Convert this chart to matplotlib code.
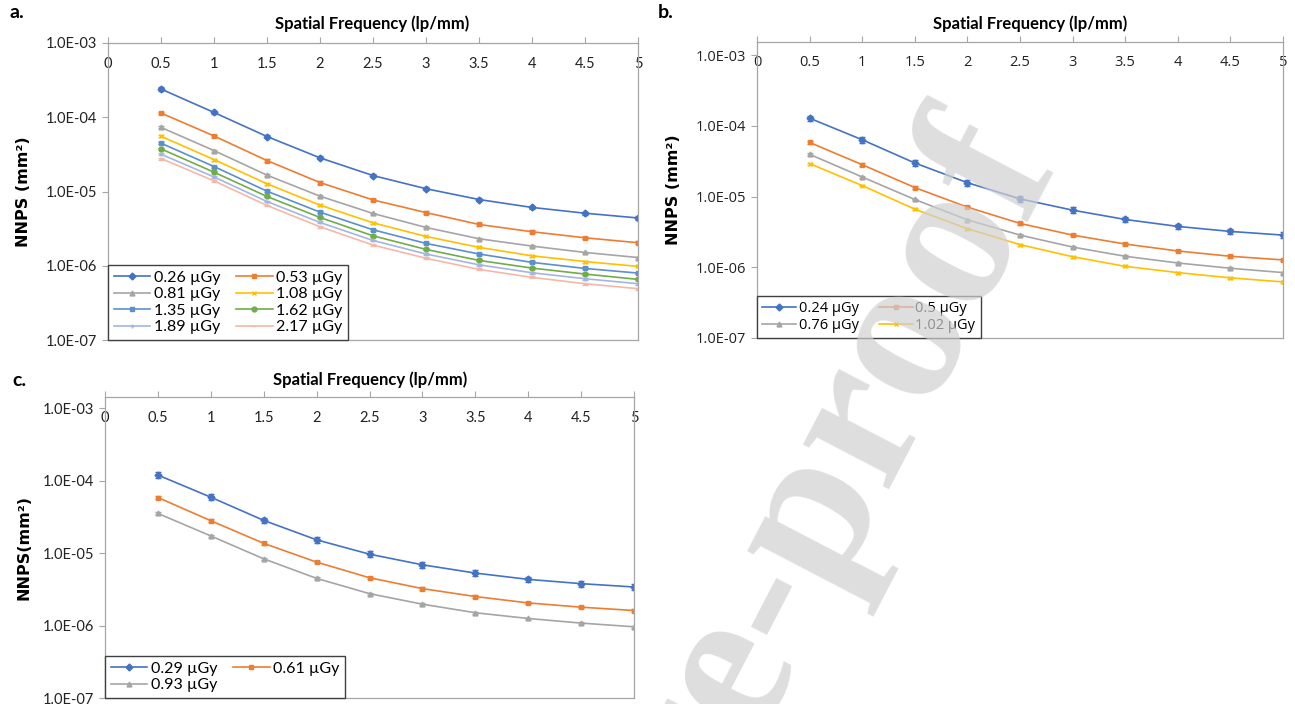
import matplotlib
matplotlib.use("Agg")
import matplotlib.pyplot as plt
from matplotlib.lines import Line2D
import numpy as np

# ---------------- data ----------------
freq = [0.5, 1, 1.5, 2, 2.5, 3, 3.5, 4, 4.5, 5]
xtick_vals = [0, 0.5, 1, 1.5, 2, 2.5, 3, 3.5, 4, 4.5, 5]
xtick_labels = ["0", "0.5", "1", "1.5", "2", "2.5", "3", "3.5", "4", "4.5", "5"]
ytick_vals = [1e-7, 1e-6, 1e-5, 1e-4, 1e-3]
ytick_labels = ["1.0E-07", "1.0E-06", "1.0E-05", "1.0E-04", "1.0E-03"]

# panel a
a_labels = ["0.26 µGy", "0.53 µGy", "0.81 µGy", "1.08 µGy",
            "1.35 µGy", "1.62 µGy", "1.89 µGy", "2.17 µGy"]
a_026 = [2.40e-4, 1.16e-4, 5.50e-5, 2.84e-5, 1.64e-5, 1.09e-5, 7.8e-6, 6.1e-6, 5.1e-6, 4.4e-6]
a_053 = [1.14e-4, 5.6e-5, 2.61e-5, 1.32e-5, 7.7e-6, 5.2e-6, 3.6e-6, 2.87e-6, 2.38e-6, 2.04e-6]
a_081 = [7.3e-5, 3.56e-5, 1.66e-5, 8.65e-6, 5.06e-6, 3.28e-6, 2.31e-6, 1.84e-6, 1.51e-6, 1.29e-6]
a_108 = [5.55e-5, 2.69e-5, 1.27e-5, 6.55e-6, 3.79e-6, 2.48e-6, 1.77e-6, 1.36e-6, 1.14e-6, 9.8e-7]
a_135 = [4.47e-5, 2.17e-5, 1.01e-5, 5.27e-6, 3.05e-6, 2.0e-6, 1.44e-6, 1.11e-6, 9.2e-7, 7.96e-7]
a_162 = [3.75e-5, 1.82e-5, 8.57e-6, 4.47e-6, 2.53e-6, 1.66e-6, 1.18e-6, 9.3e-7, 7.73e-7, 6.55e-7]
a_189 = [3.18e-5, 1.57e-5, 7.33e-6, 3.83e-6, 2.19e-6, 1.44e-6, 1.03e-6, 8.05e-7, 6.69e-7, 5.73e-7]
a_217 = [2.78e-5, 1.39e-5, 6.48e-6, 3.35e-6, 1.90e-6, 1.26e-6, 8.93e-7, 6.97e-7, 5.73e-7, 4.91e-7]
a_relerr = [0.05, 0.04, 0.03, 0.03, 0.03, 0.03, 0.03, 0.03]

# panel b
b_labels = ["0.24 µGy", "0.5 µGy", "0.76 µGy", "1.02 µGy"]
b_024 = [1.28e-4, 6.35e-5, 2.98e-5, 1.57e-5, 9.27e-6, 6.42e-6, 4.74e-6, 3.78e-6, 3.21e-6, 2.85e-6]
b_050 = [5.82e-5, 2.82e-5, 1.34e-5, 7.08e-6, 4.17e-6, 2.85e-6, 2.13e-6, 1.70e-6, 1.43e-6, 1.27e-6]
b_076 = [3.95e-5, 1.89e-5, 9.08e-6, 4.69e-6, 2.85e-6, 1.93e-6, 1.43e-6, 1.15e-6, 9.68e-7, 8.41e-7]
b_102 = [2.92e-5, 1.43e-5, 6.63e-6, 3.51e-6, 2.09e-6, 1.41e-6, 1.03e-6, 8.41e-7, 7.08e-7, 6.21e-7]
b_relerr = [0.09, 0.04, 0.03, 0.03]

# panel c
c_labels = ["0.29 µGy", "0.61 µGy", "0.93 µGy"]
c_029 = [1.19e-4, 5.89e-5, 2.82e-5, 1.52e-5, 9.64e-6, 6.88e-6, 5.29e-6, 4.33e-6, 3.78e-6, 3.40e-6]
c_061 = [5.83e-5, 2.79e-5, 1.36e-5, 7.49e-6, 4.56e-6, 3.23e-6, 2.51e-6, 2.05e-6, 1.79e-6, 1.61e-6]
c_093 = [3.52e-5, 1.72e-5, 8.32e-6, 4.47e-6, 2.75e-6, 1.97e-6, 1.50e-6, 1.25e-6, 1.08e-6, 9.6e-7]
c_relerr = [0.09, 0.04, 0.03]

# ---------------- styles ----------------
a_colors = ["#4472C4", "#ED7D31", "#A5A5A5", "#FFC000", "#5B8FD0", "#70AD47", "#A3B6E2", "#F4B8A8"]
a_markers = ["D", "s", "^", "x", "s", "o", "+", "_"]
b_colors = ["#4472C4", "#ED7D31", "#A5A5A5", "#FFC000"]
b_markers = ["D", "s", "^", "x"]
c_colors = ["#4472C4", "#ED7D31", "#A5A5A5"]
c_markers = ["D", "s", "^"]

SPINE = "#A6A6A6"
W, H = 1295, 704
fig = plt.figure(figsize=(W / 100, H / 100), dpi=100)


def ax_at(l, t, r, b):
    return fig.add_axes([l / W, 1 - b / H, (r - l) / W, (b - t) / H])


def style_axes(ax, ytop, font):
    ax.set_yscale("log")
    ax.set_xlim(0, 5)
    ax.set_ylim(1e-7, ytop)
    ax.set_xticks(xtick_vals)
    ax.set_xticklabels(xtick_labels, fontfamily=font, fontsize=10.5)
    ax.set_yticks(ytick_vals)
    ax.set_yticklabels(ytick_labels, fontfamily=font, fontsize=10.5)
    ax.yaxis.set_minor_locator(matplotlib.ticker.NullLocator())
    ax.tick_params(axis="x", top=True, bottom=False, labeltop=True, labelbottom=False,
                   direction="out", length=4, width=0.8, color=SPINE, pad=-24, labelcolor="#222222")
    ax.tick_params(axis="y", direction="out", length=4, width=0.8, color=SPINE, pad=4,
                   labelcolor="#222222")
    for s in ax.spines.values():
        s.set_color(SPINE)
        s.set_linewidth(0.9)


def plot_series(ax, ys, labels, colors, markers, relerr):
    handles = []
    for y, lab, col, mk, re in zip(ys, labels, colors, markers, relerr):
        y = np.array(y)
        ax.errorbar(freq, y, yerr=y * re, color=col, marker=mk, markersize=3.5,
                    markeredgewidth=1.0, linewidth=1.2, elinewidth=1.0, capsize=2.2,
                    capthick=1.0)
        handles.append(Line2D([], [], color=col, marker=mk, markersize=3.5,
                              markeredgewidth=1.0, linewidth=1.2, label=lab))
    return handles


def add_legend(ax, handles, font, fs, colspace):
    ordered = handles[0::2] + handles[1::2]   # row-wise reading order
    leg = ax.legend(handles=ordered, loc="lower left", bbox_to_anchor=(0, 0), ncol=2,
                    frameon=True, fancybox=False, framealpha=1, edgecolor="#404040",
                    prop={"family": font, "size": fs}, handlelength=2.3, handletextpad=0.2,
                    labelspacing=0.15, columnspacing=colspace, borderpad=0.35,
                    borderaxespad=0)
    leg.get_frame().set_linewidth(1.0)
    return leg


# ---------------- panel a ----------------
axa = ax_at(108, 43, 638, 340)
style_axes(axa, 1e-3, "Lato")
ha_ = plot_series(axa, [a_026, a_053, a_081, a_108, a_135, a_162, a_189, a_217],
                  a_labels, a_colors, a_markers, a_relerr)
add_legend(axa, ha_, "Lato", 11.5, 1.0)
axa.set_ylabel("NNPS (mm²)", fontfamily="DejaVu Sans", fontweight="bold", fontsize=11.5, labelpad=10)
fig.text(372 / W, 1 - 24 / H, "Spatial Frequency (lp/mm)", ha="center", va="center",
         fontfamily="Lato", fontweight="bold", fontsize=12)
fig.text(10 / W, 1 - 12 / H, "a.", ha="left", va="center", fontfamily="Lato",
         fontweight="bold", fontsize=14)

# ---------------- panel b ----------------
axb = ax_at(757, 42, 1283, 338)
style_axes(axb, 1.53e-3, "Open Sans")
hb_ = plot_series(axb, [b_024, b_050, b_076, b_102], b_labels, b_colors, b_markers, b_relerr)
add_legend(axb, hb_, "Open Sans", 10.5, 1.4)
axb.set_ylabel("NNPS (mm²)", fontfamily="DejaVu Sans", fontweight="bold", fontsize=11.5, labelpad=10)
fig.text(1030 / W, 1 - 24 / H, "Spatial Frequency (lp/mm)", ha="center", va="center",
         fontfamily="Lato", fontweight="bold", fontsize=12)
fig.text(658 / W, 1 - 12 / H, "b.", ha="left", va="center", fontfamily="Lato",
         fontweight="bold", fontsize=14)

# ---------------- panel c ----------------
axc = ax_at(105, 397, 634, 698)
style_axes(axc, 1.42e-3, "Lato")
hc_ = plot_series(axc, [c_029, c_061, c_093], c_labels, c_colors, c_markers, c_relerr)
add_legend(axc, hc_, "Lato", 11.5, 1.0)
axc.set_ylabel("NNPS(mm²)", fontfamily="DejaVu Sans", fontweight="bold", fontsize=11.5, labelpad=8)
fig.text(370 / W, 1 - 380 / H, "Spatial Frequency (lp/mm)", ha="center", va="center",
         fontfamily="Lato", fontweight="bold", fontsize=12)
fig.text(12 / W, 1 - 380 / H, "c.", ha="left", va="center", fontfamily="Lato",
         fontweight="bold", fontsize=14)

# ---------------- watermark ----------------
fig.text(1012 / W, 1 - 140 / H, "Journal Pre-proof", ha="right", va="center",
         rotation=62.5, rotation_mode="anchor", fontfamily="Liberation Serif",
         fontweight="bold", fontsize=152, color="#D0D0D0", alpha=0.7, zorder=10)

fig.savefig("out.png", dpi=100)
